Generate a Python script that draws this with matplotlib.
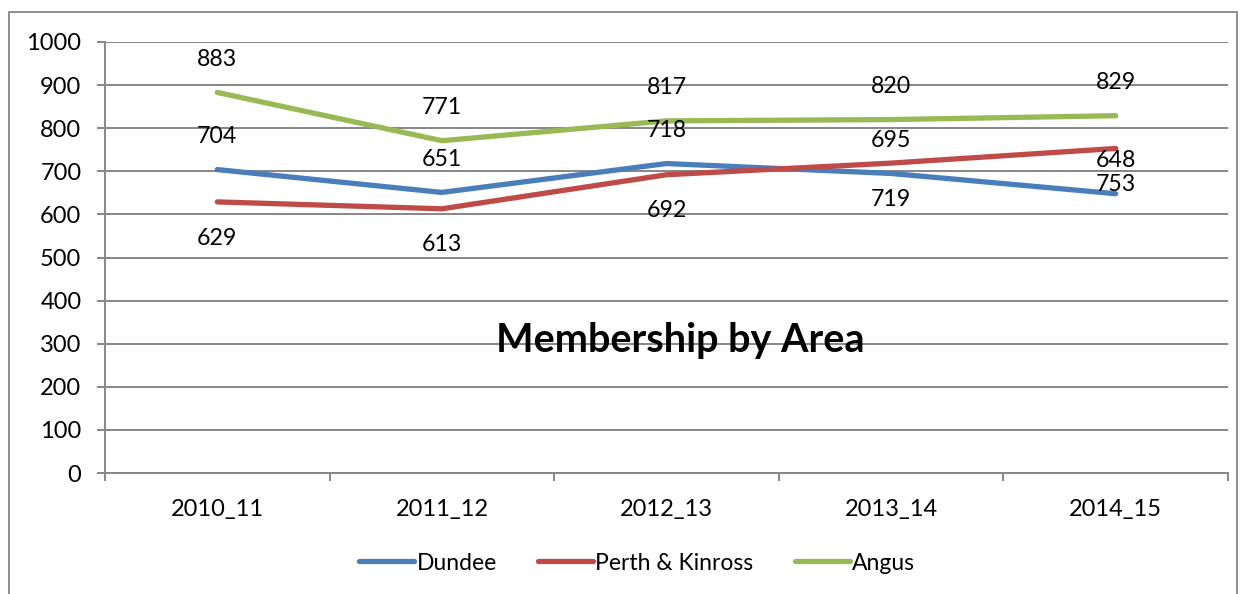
import matplotlib.pyplot as plt
from matplotlib.patches import Rectangle
import numpy as np

# Data
years = ['2010_11', '2011_12', '2012_13', '2013_14', '2014_15']
dundee = [704, 651, 718, 695, 648]
perth = [629, 613, 692, 719, 753]
angus = [883, 771, 817, 820, 829]

plt.rcParams['font.family'] = ['Lato', 'DejaVu Sans']

fig = plt.figure(figsize=(12.45, 5.94), dpi=100)
ax = fig.add_axes([105 / 1245, 1 - 473 / 594, (1228 - 105) / 1245, (473 - 42) / 594])

# outer chart border
fig.patches.append(Rectangle((9 / 1245, -0.05), (1237 - 9) / 1245, 1.05 - 12 / 594,
                             transform=fig.transFigure, fill=False,
                             edgecolor='#868686', linewidth=1.3))

grey = '#868686'
x = np.arange(len(years))
series = [
    ('Dundee', dundee, '#4A7EBB', 24),
    ('Perth & Kinross', perth, '#BE4B48', -26),
    ('Angus', angus, '#98B954', 24),
]

for name, vals, col, off in series:
    ax.plot(x, vals, color=col, linewidth=3.8, solid_capstyle='round',
            solid_joinstyle='round', label=name)
    for xi, v in zip(x, vals):
        ax.annotate(str(v), (xi, v), xytext=(0, off), textcoords='offset points',
                    ha='center', va='center', fontsize=16.7, color='black')

ax.set_xlim(-0.5, 4.5)
ax.set_ylim(0, 1000)
ax.set_yticks(range(0, 1001, 100))
ax.set_xticks(x)
ax.set_xticklabels(years)
ax.set_xticks(np.arange(-0.5, 4.6, 1), minor=True)

ax.grid(axis='y', color=grey, linewidth=1.4)
ax.set_axisbelow(True)
for s in ['top', 'right']:
    ax.spines[s].set_visible(False)
for s in ['left', 'bottom']:
    ax.spines[s].set_color(grey)
    ax.spines[s].set_linewidth(1.4)

ax.tick_params(axis='y', length=6, width=1.4, color=grey, pad=11, labelsize=17)
ax.tick_params(axis='x', which='major', length=0, pad=19, labelsize=17)
ax.tick_params(axis='x', which='minor', length=6, width=1.4, color=grey)

ax.text(0.512, 0.307, 'Membership by Area', transform=ax.transAxes,
        ha='center', va='center', fontsize=28.5, fontweight='bold')

fig.legend(loc='center', bbox_to_anchor=(637 / 1245, 1 - 563 / 594), ncol=3,
           frameon=False, fontsize=16.5, handlelength=2.4, handletextpad=0.1,
           columnspacing=1.8)

fig.savefig('out.png', dpi=100)
